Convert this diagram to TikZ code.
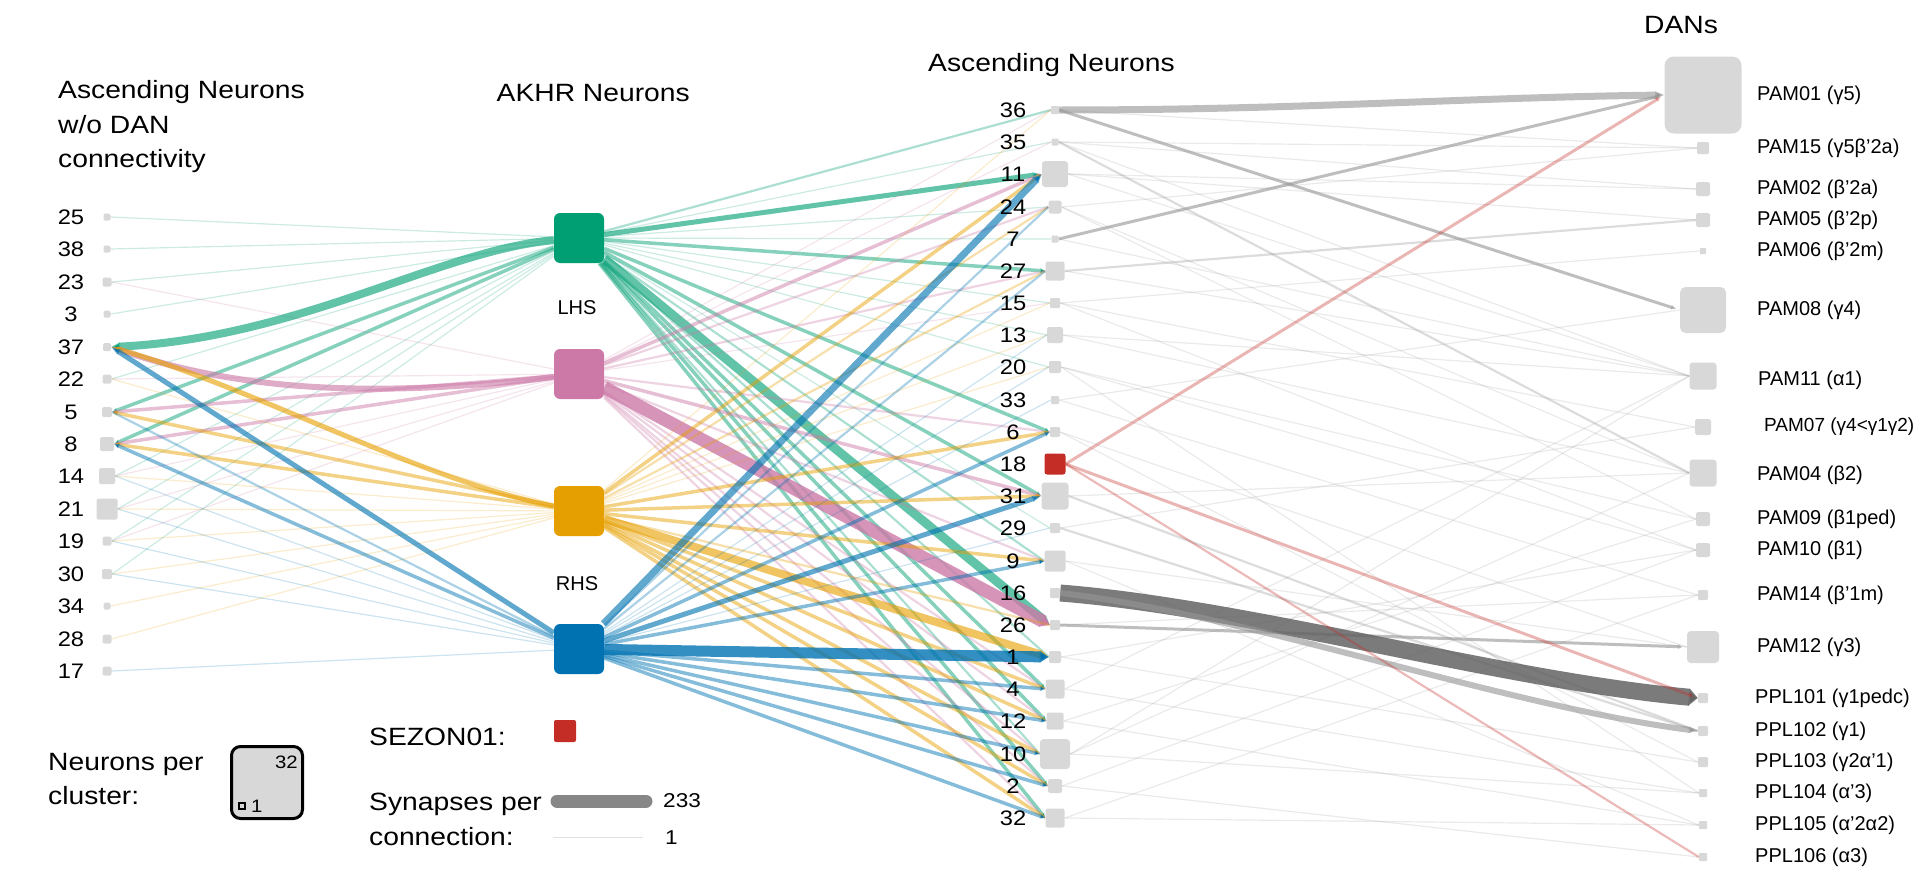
\documentclass[tikz,border=0pt]{standalone}
\usepackage{fontspec}
\setmainfont{Liberation Sans}
\newfontfamily\tfont{Liberation Sans}[FakeStretch=1.13]
\usetikzlibrary{arrows.meta}
\definecolor{cG}{RGB}{0,158,115}
\definecolor{cP}{RGB}{204,121,167}
\definecolor{cO}{RGB}{230,159,0}
\definecolor{cB}{RGB}{0,114,178}
\definecolor{cR}{RGB}{196,45,38}
\definecolor{boxgray}{RGB}{216,216,216}
\definecolor{eg}{RGB}{150,150,150}
\definecolor{egd}{RGB}{100,100,100}
\pgfdeclarelayer{bg}
\pgfsetlayers{bg,main}
\tikzset{
  nb/.style={rectangle, fill=boxgray, inner sep=0pt, minimum size=#1},
  akhr/.style={rectangle, rounded corners=6pt, fill=#1, inner sep=0pt, minimum size=50pt},
  num/.style={font=\tfont\fontsize{21}{24}\selectfont, inner sep=0pt},
  ttl/.style={font=\tfont\fontsize{25}{34.5}\selectfont, inner sep=0pt, align=left},
  dlab/.style={font=\fontsize{20}{22}\selectfont, anchor=west, inner sep=0pt},
  w1/.style={line width=1.2pt, draw opacity=0.2},
  w2/.style={line width=2.2pt, draw opacity=0.33},
  w3/.style={line width=3.5pt, draw opacity=0.48, -{Triangle[length=5pt,width=1pt 1]}},
  wt/.style={line width=#1, draw opacity=0.62, -{Triangle[length=9pt,width=0pt 1]}},
}
\begin{document}
\begin{tikzpicture}[x=1pt,y=-1pt]
\useasboundingbox (0,0) rectangle (1920,886);

% titles
\node[ttl, anchor=west] (t1) at (58,127) {Ascending Neurons\\w/o DAN\\connectivity};
\node[ttl, anchor=east] (t2) at (690,93) {AKHR Neurons};
\node[ttl, anchor=west] (t3) at (928,65) {Ascending Neurons};
\node[ttl, anchor=west] (t4) at (1644,25) {DANs};

% left column
\foreach \n/\y/\s in {25/217/7, 38/249/7, 23/282/9, 3/314/7, 37/347/8, 22/379/9, 5/412/10, 8/444/14, 14/476/16, 21/509/21, 19/541/9, 30/574/10, 34/606/7, 28/639/9, 17/671/9} {
  \node[nb=\s, rounded corners=1.5pt] (L\n) at (107,\y) {};
  \node[num] (tL\n) at (71,\y) {\n};
}

% AKHR nodes
\node[akhr=cG] (G) at (579,238) {};
\node[akhr=cP] (P) at (579,374) {};
\node[akhr=cO] (O) at (579,511) {};
\node[akhr=cB] (B) at (579,649) {};
\node[font=\fontsize{20}{22}\selectfont, inner sep=0pt] (lhs) at (577,308) {LHS};
\node[font=\fontsize{20}{22}\selectfont, inner sep=0pt] (rhs) at (577,584) {RHS};

% middle column
\foreach \n/\y/\s/\c in {36/110/8/boxgray, 35/142/7/boxgray, 11/174/26/boxgray, 24/207/13/boxgray, 7/239/7/boxgray, 27/271/19/boxgray, 15/303/10/boxgray, 13/335/16/boxgray, 20/367/12/boxgray, 33/400/8/boxgray, 6/432/10/boxgray, 18/464/21/cR, 31/496/27/boxgray, 29/528/10/boxgray, 9/561/21/boxgray, 16/593/10/boxgray, 26/625/10/boxgray, 1/657/12/boxgray, 4/689/19/boxgray, 12/721/17/boxgray, 10/754/30/boxgray, 2/786/14/boxgray, 32/818/19/boxgray} {
  \pgfmathsetmacro\rc{0.12*\s}
  \node[nb=\s, fill=\c, rounded corners=\rc pt] (M\n) at (1055,\y) {};
  \node[num] (tM\n) at (1013,\y) {\n};
}

% DANs
\foreach \n/\y/\s in {P01/95/77, P15/148/12, P02/189/14, P05/220/14, P06/251/6, P08/310/46, P11/376/27, P07/427/16, P04/473/27, P09/519/14, P10/550/14, P14/595/10, P12/647/32, L101/698/10, L102/731/10, L103/762/10, L104/793/8, L105/825/8, L106/857/8} {
  \pgfmathsetmacro\rc{0.12*\s}
  \node[nb=\s, rounded corners=\rc pt] (D\n) at (1703,\y) {};
}
\node[dlab] (lP01) at (1757,95) {PAM01 (γ5)};
\node[dlab] (lP15) at (1757,148) {PAM15 (γ5β'2a)};
\node[dlab] (lP02) at (1757,189) {PAM02 (β'2a)};
\node[dlab] (lP05) at (1757,220) {PAM05 (β'2p)};
\node[dlab] (lP06) at (1757,251) {PAM06 (β'2m)};
\node[dlab] (lP08) at (1757,310) {PAM08 (γ4)};
\node[dlab] (lP11) at (1758,380) {PAM11 (α1)};
\node[dlab, font=\fontsize{19}{22}\selectfont] (lP07) at (1764,427) {PAM07 (γ4<γ1γ2)};
\node[dlab] (lP04) at (1757,475) {PAM04 (β2)};
\node[dlab] (lP09) at (1757,519) {PAM09 (β1ped)};
\node[dlab] (lP10) at (1757,550) {PAM10 (β1)};
\node[dlab] (lP14) at (1757,595) {PAM14 (β'1m)};
\node[dlab] (lP12) at (1757,647) {PAM12 (γ3)};
\node[dlab] (lL101) at (1755,698) {PPL101 (γ1pedc)};
\node[dlab] (lL102) at (1755,731) {PPL102 (γ1)};
\node[dlab] (lL103) at (1755,762) {PPL103 (γ2α'1)};
\node[dlab] (lL104) at (1755,793) {PPL104 (α'3)};
\node[dlab] (lL105) at (1755,825) {PPL105 (α'2α2)};
\node[dlab] (lL106) at (1755,857) {PPL106 (α3)};

% legend
\node[ttl, anchor=west] (lg1) at (48,779) {Neurons per\\cluster:};
\node[draw=black, line width=3pt, fill=boxgray, rounded corners=9pt, minimum width=71pt, minimum height=72pt, inner sep=0pt] (lgb) at (267,782.5) {};
\node[font=\tfont\fontsize{18}{20}\selectfont, anchor=east, inner sep=0pt] (lg32) at (298,762) {32};
\node[draw=black, line width=1.5pt, fill=boxgray, minimum size=6pt, inner sep=0pt] (lgs) at (242,806) {};
\node[font=\tfont\fontsize{18}{20}\selectfont, anchor=west, inner sep=0pt] (lg1n) at (251,806) {1};
\node[ttl, anchor=west] (sez) at (369,737) {SEZON01:};
\node[fill=cR, rounded corners=2pt, minimum size=22pt, inner sep=0pt] (sezb) at (565,731) {};
\node[ttl, anchor=west] (syn) at (369,819.5) {Synapses per\\connection:};
\coordinate (s1) at (557,801);
\coordinate (s2) at (646,801);
\draw[line width=13pt, line cap=round, color=eg!90!black] (s1) -- (s2);
\coordinate (s3) at (553,837);
\coordinate (s4) at (643,837);
\draw[line width=1pt, color=black!12] (s3) -- (s4);
\node[font=\tfont\fontsize{20}{22}\selectfont, anchor=west, inner sep=0pt] (n233) at (663,801) {233};
\node[font=\tfont\fontsize{20}{22}\selectfont, anchor=west, inner sep=0pt] (n1) at (665,838) {1};

\begin{pgfonlayer}{bg}
% AKHR -> left column
\foreach \t/\s in {25/w1, 38/w1, 23/w1, 3/w1, 22/w1, 5/w3, 8/w3, 14/w1, 21/w1, 19/w1, 30/w1}
  \draw[cG, \s] (G) -- (L\t.east);
\foreach \t/\s in {23/w1, 22/w1, 5/w3, 8/w3, 14/w1, 21/w1, 19/w1}
  \draw[cP, \s] (P) -- (L\t.east);
\foreach \t/\s in {5/w3, 8/w3, 22/w1, 14/w1, 21/w1, 19/w1, 30/w1, 34/w1, 28/w1}
  \draw[cO, \s] (O) -- (L\t.east);
\foreach \t/\s in {5/w2, 8/w3, 14/w1, 19/w1, 21/w1, 30/w1, 17/w1}
  \draw[cB, \s] (B) -- (L\t.east);
\draw[cG, wt=8pt] (G) .. controls (440,250) and (300,338) .. (L37.east);
\draw[cP, wt=6pt] (P) .. controls (360,400) and (230,388) .. (L37.east);
\draw[cO, wt=5pt] (O) .. controls (420,480) and (260,390) .. (L37.east);
\draw[cB, wt=5pt] (B) -- (L37.east);

% AKHR -> middle column
\foreach \t/\s in {36/w2, 35/w1, 24/w1, 7/w1, 27/w3, 15/w1, 13/w1, 20/w1, 6/w3, 31/w3, 29/w1, 9/w2, 1/w2, 4/w3, 12/w3, 10/w2, 2/w3, 32/w3}
  \draw[cG, \s] (G) -- (M\t.west);
\draw[cG, wt=5pt] (G) -- (M11.west);
\draw[cG, wt=9pt] (G) -- (M26.west);
\foreach \t/\s in {36/w1, 35/w1, 11/w3, 24/w2, 27/w2, 15/w1, 6/w2, 31/w3, 9/w2, 4/w2, 12/w2, 10/w2, 2/w2, 32/w2}
  \draw[cP, \s] (P) -- (M\t.west);
\draw[cP, wt=13pt, draw opacity=0.8] (P) -- (M26.west);
\foreach \t/\s in {36/w1, 11/w3, 24/w2, 27/w2, 15/w1, 13/w1, 20/w1, 6/w3, 31/w3, 9/w3, 26/w2, 4/w3, 12/w3, 10/w3, 2/w3, 32/w3}
  \draw[cO, \s] (O) -- (M\t.west);
\draw[cO, wt=8pt] (O) -- (M1.west);
\foreach \t/\s in {24/w2, 27/w2, 13/w1, 20/w1, 33/w1, 6/w3, 29/w1, 9/w3, 4/w3, 12/w3, 10/w3, 2/w3, 32/w3}
  \draw[cB, \s] (B) -- (M\t.west);
\draw[cB, wt=7pt] (B) -- (M11.west);
\draw[cB, wt=5pt] (B) -- (M31.west);
\draw[cB, wt=11pt, draw opacity=0.8] (B) -- (M1.west);

% middle -> DANs
\foreach \a/\b in {36/P15, 35/P15, 35/P02, 35/P11, 11/P02, 11/P11, 11/P05, 24/P04, 24/P09, 7/P11, 27/P11, 15/P07, 15/P10, 13/P04, 13/P11, 20/P10, 20/P09, 33/P14, 6/L103, 6/P12, 31/P04, 9/P12, 1/L103, 4/P11, 12/P09, 10/P04, 10/P11, 2/P10, 32/P14, 4/L104, 12/L105, 29/P07, 33/P08, 20/L104, 15/P06, 24/P15, 9/L105, 26/P14, 1/P10, 2/L106, 10/L104, 32/L105}
  \draw[eg, w1] (M\a.east) -- (D\b.west);
\foreach \a/\b in {27/P05, 29/L102, 31/L102, 35/P04}
  \draw[eg, w2] (M\a.east) -- (D\b.west);
\draw[eg, wt=7pt] (M36.east) .. controls (1300,110) and (1450,98) .. (DP01.west);
\draw[eg, wt=3pt] (M36.east) -- (DP08.west);
\draw[eg, wt=3pt] (M7.east) -- (DP01.west);
\draw[eg, wt=3pt] (M26.east) -- (DP12.west);
\draw[egd, wt=17pt, draw opacity=0.85] (M16.east) .. controls (1250,608) and (1500,680) .. (DL101.west);
\draw[eg, wt=6pt] (M16.east) .. controls (1250,615) and (1500,705) .. (DL102.west);
\draw[cR, wt=3pt, draw opacity=0.35] (M18.east) -- (DP01.west);
\draw[cR, wt=3pt, draw opacity=0.35] (M18.east) -- (DL101.west);
\draw[cR, w2] (M18.east) -- (DL106.west);
\end{pgfonlayer}
\end{tikzpicture}
\end{document}
